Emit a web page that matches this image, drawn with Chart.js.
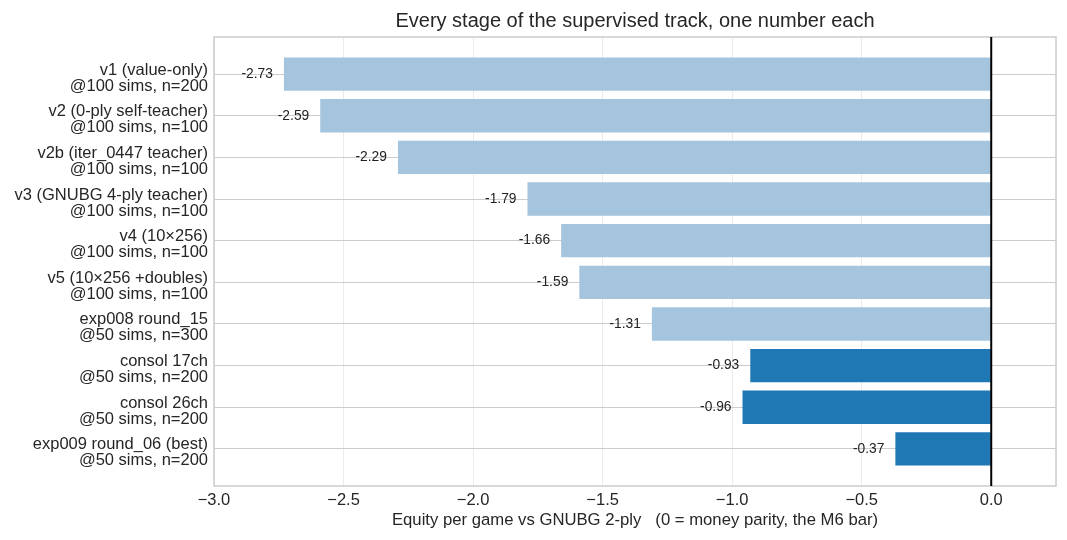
<!DOCTYPE html>
<html>
<head>
<meta charset="utf-8">
<script src="https://cdn.jsdelivr.net/npm/chart.js@4"></script>
<style>
html,body{margin:0;padding:0;background:#fff;}
#wrap{width:1067px;height:540px;position:relative;}
</style>
</head>
<body>
<div id="wrap"><canvas id="c"></canvas></div>
<script>
const categories = [
  ["v1 (value-only)", "@100 sims, n=200"],
  ["v2 (0-ply self-teacher)", "@100 sims, n=100"],
  ["v2b (iter_0447 teacher)", "@100 sims, n=100"],
  ["v3 (GNUBG 4-ply teacher)", "@100 sims, n=100"],
  ["v4 (10×256)", "@100 sims, n=100"],
  ["v5 (10×256 +doubles)", "@100 sims, n=100"],
  ["exp008 round_15", "@50 sims, n=300"],
  ["consol 17ch", "@50 sims, n=200"],
  ["consol 26ch", "@50 sims, n=200"],
  ["exp009 round_06 (best)", "@50 sims, n=200"]
];
const equity = [-2.73, -2.59, -2.29, -1.79, -1.66, -1.59, -1.31, -0.93, -0.96, -0.37];
const isConsol = [false, false, false, false, false, false, false, true, true, true];
const xTicks = [-3.0, -2.5, -2.0, -1.5, -1.0, -0.5, 0.0];

const FONT = "'Liberation Sans', Arial, sans-serif";
const TXT = '#262626';
const LABEL_SHIFT = 0.095;

const points = equity.map((v, i) => ({x: v, y: i}));
const colors = isConsol.map(b => b ? '#1f77b4' : '#a5c4de');

const overlay = {
  id: 'overlay',
  beforeDatasetsDraw(chart) {
    const ctx = chart.ctx, a = chart.chartArea;
    ctx.save();
    ctx.strokeStyle = '#cccccc';
    ctx.lineWidth = 1.5;
    ctx.strokeRect(a.left, a.top, a.right - a.left, a.bottom - a.top);
    ctx.restore();
  },
  afterDatasetsDraw(chart) {
    const ctx = chart.ctx, a = chart.chartArea;
    const meta = chart.getDatasetMeta(0);
    ctx.save();
    ctx.font = "13.8px " + FONT;
    ctx.fillStyle = '#222222';
    ctx.textAlign = 'right';
    ctx.textBaseline = 'middle';
    meta.data.forEach((bar, i) => {
      ctx.fillText(equity[i].toFixed(2), bar.x - 11, bar.y);
    });
    const x0 = chart.scales.x.getPixelForValue(0);
    ctx.strokeStyle = '#000000';
    ctx.lineWidth = 2;
    ctx.beginPath();
    ctx.moveTo(x0, a.top);
    ctx.lineTo(x0, a.bottom);
    ctx.stroke();
    ctx.restore();
  }
};

new Chart(document.getElementById('c'), {
  type: 'bar',
  data: {
    datasets: [{
      data: points,
      yAxisID: 'y',
      backgroundColor: colors,
      borderWidth: 0,
      categoryPercentage: 1.0,
      barPercentage: 0.8
    }]
  },
  options: {
    indexAxis: 'y',
    responsive: true,
    maintainAspectRatio: false,
    animation: false,
    layout: {padding: {left: 0, right: 11, top: 0, bottom: 0}},
    plugins: {
      legend: {display: false},
      tooltip: {enabled: false},
      title: {
        display: true,
        fullSize: false,
        text: 'Every stage of the supervised track, one number each',
        color: TXT,
        font: {family: FONT, size: 20, weight: 'normal', lineHeight: 1.2},
        padding: {top: 9, bottom: 4}
      }
    },
    scales: {
      x: {
        type: 'linear',
        min: -3.0,
        max: 0.25,
        afterBuildTicks(s) { s.ticks = xTicks.map(v => ({value: v})); },
        afterFit(s) { s.height = 54; },
        grid: {color: '#ebebeb', lineWidth: 1, drawTicks: false},
        border: {display: false},
        ticks: {
          color: TXT,
          padding: 5,
          font: {family: FONT, size: 16.5},
          callback: v => v.toFixed(1).replace('-', '\u2212')
        },
        title: {
          display: true,
          text: 'Equity per game vs GNUBG 2-ply   (0 = money parity, the M6 bar)',
          color: TXT,
          font: {family: FONT, size: 16.7, lineHeight: 1.2},
          padding: {top: 0, bottom: 10}
        }
      },
      y: {
        type: 'linear',
        position: 'left',
        reverse: true,
        offset: false,
        min: -0.89,
        max: 9.89,
        afterBuildTicks(s) { s.ticks = categories.map((c, i) => ({value: i})); },
        afterFit(s) { s.width = 0; },
        grid: {color: '#cccccc', lineWidth: 1, drawTicks: false, offset: false},
        border: {display: false},
        ticks: {display: false}
      },
      ylab: {
        type: 'linear',
        position: 'left',
        reverse: true,
        offset: false,
        min: -0.89,
        max: 9.89,
        afterBuildTicks(s) { s.ticks = categories.map((c, i) => ({value: i + LABEL_SHIFT})); },
        afterFit(s) { s.width = 214; },
        grid: {display: false, drawTicks: false},
        border: {display: false},
        ticks: {
          color: TXT,
          padding: 6,
          font: {family: FONT, size: 16.5, lineHeight: 0.97},
          callback: v => categories[Math.round(v - LABEL_SHIFT)]
        }
      }
    }
  },
  plugins: [overlay]
});
</script>
</body>
</html>
